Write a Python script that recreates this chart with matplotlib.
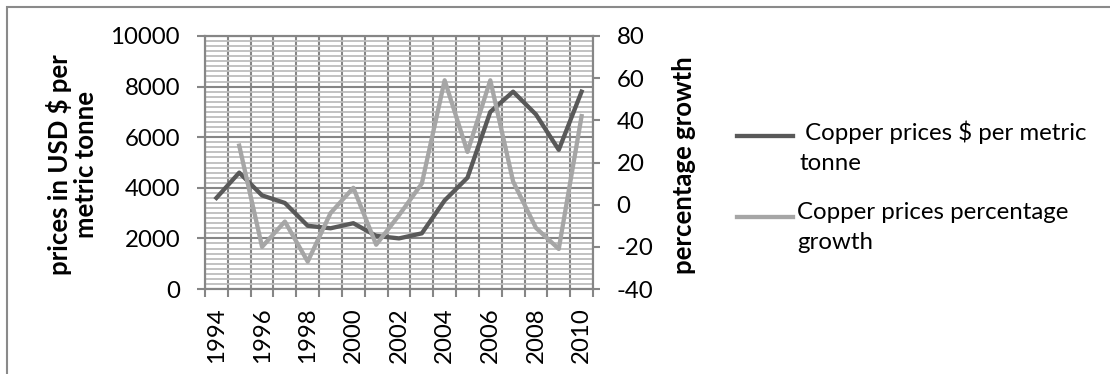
import matplotlib.pyplot as plt
from matplotlib.lines import Line2D
from matplotlib.patches import Rectangle
from matplotlib.ticker import MultipleLocator, FixedLocator

years = list(range(1994, 2011))
# copper price, USD per metric tonne
price = [3600, 4600, 3700, 3400, 2500, 2400, 2600, 2100, 2000, 2200,
         3500, 4400, 7000, 7800, 6900, 5500, 7800]
# year-on-year growth in percent (no value for the first year)
growth = [None, 28, -20, -8, -27, -4, 8, -19, -5, 10,
          59, 25, 59, 11, -11, -21, 42]

price_label = " Copper prices $ per metric\ntonne"
growth_label = "Copper prices percentage\ngrowth"

W, H = 1110, 374
plt.rcParams['font.family'] = ['Lato', 'DejaVu Sans']
plt.rcParams['axes.unicode_minus'] = False
FS = 17.3
TITLE_FS = 18.5

dark = '#595959'
light = '#a6a6a6'
major_grid = '#868686'
minor_grid = '#bdbdbd'

fig = plt.figure(figsize=(W / 100, H / 100), dpi=100)

# outer chart frame
fig.add_artist(Rectangle((7 / W, -0.1), 1.2, 1 - 7 / H + 0.1, transform=fig.transFigure,
                         fill=False, edgecolor='#8a8a8a', lw=1.5))

ax = fig.add_axes([205 / W, 85 / H, 388 / W, 253 / H])
ax2 = ax.twinx()

xs = list(range(len(years)))
ax.plot(xs, price, color=dark, lw=3.1, solid_joinstyle='round', zorder=3)
gx = [x for x, g in zip(xs, growth) if g is not None]
gy = [g for g in growth if g is not None]
ax2.plot(gx, gy, color=light, lw=3.1, solid_joinstyle='round', zorder=3)

# x axis: labels every other year, gridlines between categories
ax.set_xlim(-0.5, len(years) - 0.5)
ax.xaxis.set_major_locator(FixedLocator(xs[::2]))
ax.set_xticklabels([str(y) for y in years[::2]], rotation=90, fontsize=FS)
ax.xaxis.set_minor_locator(FixedLocator([x - 0.5 for x in range(len(years) + 1)]))
ax.tick_params(axis='x', which='major', length=0, pad=13)
ax.tick_params(axis='x', which='minor', length=6, width=1.5, color=major_grid, direction='out')
ax.grid(True, axis='x', which='minor', color=major_grid, lw=1.5)

# primary y axis
ax.set_ylim(0, 10000)
ax.yaxis.set_major_locator(MultipleLocator(2000))
ax.yaxis.set_minor_locator(MultipleLocator(200))
ax.tick_params(axis='y', which='major', length=6, width=1.5, color=major_grid, labelsize=FS, pad=12)
ax.tick_params(axis='y', which='minor', length=0)
ax.grid(True, axis='y', which='major', color=major_grid, lw=1.5)
ax.grid(True, axis='y', which='minor', color=minor_grid, lw=1.3)
ax.set_axisbelow(True)

# secondary y axis
ax2.set_ylim(-40, 80)
ax2.yaxis.set_major_locator(MultipleLocator(20))
ax2.tick_params(axis='y', length=5, width=1.5, color=major_grid, labelsize=FS, pad=12)

for a in (ax, ax2):
    for s in a.spines.values():
        s.set_color(major_grid)
        s.set_linewidth(1.5)

fig.text(72 / W, 1 - 165 / H, "prices in USD $ per\nmetric tonne", rotation=90,
         ha='center', va='center', multialignment='center', fontsize=TITLE_FS,
         fontweight='bold', linespacing=1.15)
fig.text(684 / W, 1 - 165 / H, "percentage growth", rotation=90,
         ha='center', va='center', fontsize=TITLE_FS, fontweight='bold')

# legend
for line, label, ly, tx in [(ax.lines[0], price_label, 136, 799),
                            (ax2.lines[0], growth_label, 217, 797)]:
    fig.add_artist(Line2D([737 / W, 793 / W], [1 - ly / H, 1 - ly / H],
                          color=line.get_color(), lw=line.get_linewidth(),
                          transform=fig.transFigure))
    fig.text(tx / W, 1 - (ly - 15) / H, label, ha='left', va='top', fontsize=FS,
             linespacing=1.5)

fig.savefig('out.png', dpi=100)
